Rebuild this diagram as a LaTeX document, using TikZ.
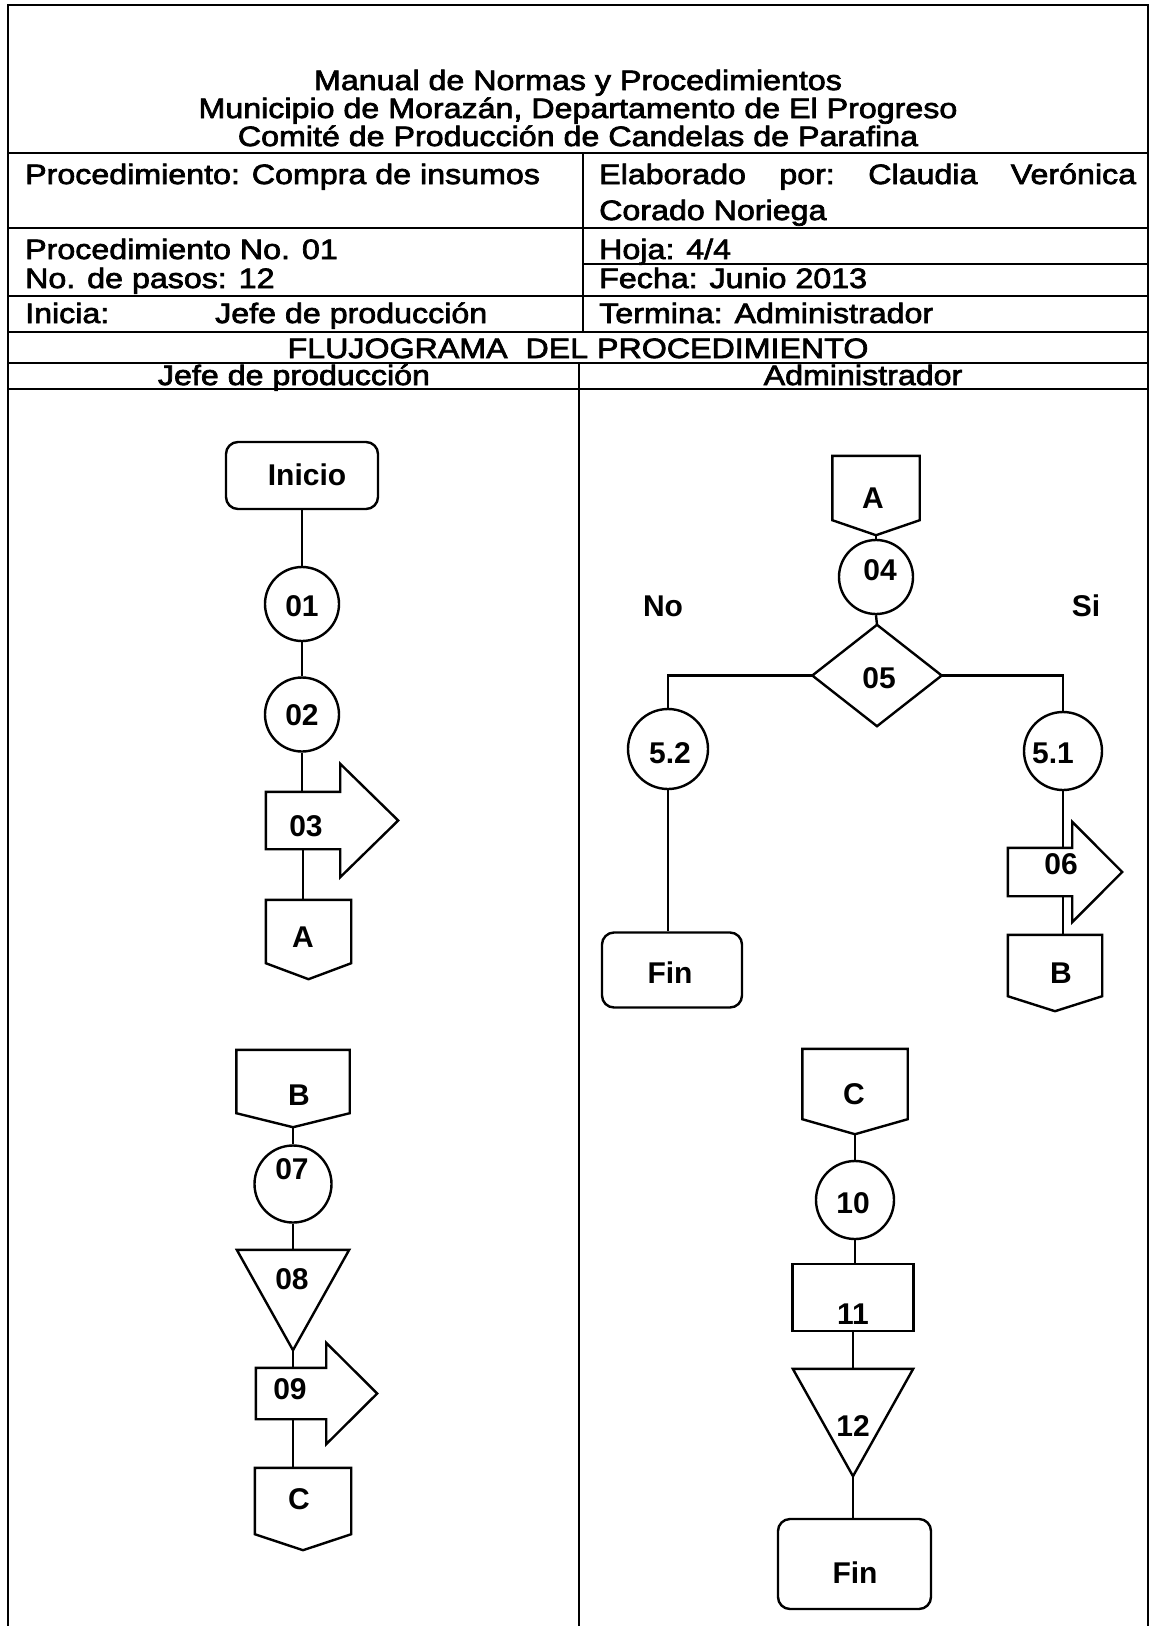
\documentclass[tikz,border=0pt]{standalone}
\usepackage{fontspec}
\setmainfont{Liberation Sans}
\newfontfamily\formfont{Liberation Sans}[FakeBold=2.5,FakeStretch=1.15]
\usetikzlibrary{calc}

% outline helpers for shapes built on a plain rectangle node
\newcommand\drawoffpage[2]{%
  \draw[flowline] (#1.north west) -- (#1.north east) -- (#1.south east)
    -- ($(#1.south)+(0,#2)$) -- (#1.south west) -- cycle;}
\newcommand\drawsignarrow[3]{%
  \draw[flowline] (#1.north west) -- (#1.north east) -- ($(#1.north east)+(0,-#2)$)
    -- ($(#1.east)+(#3,0)$) -- ($(#1.south east)+(0,#2)$) -- (#1.south east)
    -- (#1.south west) -- cycle;}
\newcommand\drawtri[1]{%
  \draw[flowline] (#1.north west) -- (#1.north east) -- (#1.south) -- cycle;}

\begin{document}
\begin{tikzpicture}[x=1pt,y=-1pt,
  tabline/.style={line width=2pt},
  flowline/.style={line width=2.4pt,line join=miter},
  ctext/.style={inner sep=0pt,font=\formfont\fontsize{28}{32}\selectfont},
  ftext/.style={inner sep=0pt,font=\bfseries\fontsize{30}{34}\selectfont},
  circ/.style={circle,draw,line width=2.4pt,inner sep=0pt,minimum size=74pt},
  term/.style={rectangle,draw,line width=2.4pt,rounded corners=12pt,inner sep=0pt},
  frame/.style={rectangle,inner sep=0pt},
  procbox/.style={rectangle,draw,line width=2.4pt,inner sep=0pt}]

\useasboundingbox (0,0) rectangle (1153,1626);
\fill[white] (0,0) rectangle (1153,1626);

% ---------- form grid ----------
\draw[tabline] (8,1626) -- (8,5) -- (1148,5) -- (1148,1626);
\foreach \yy in {153,228,295.5,332,363,389}
  \draw[tabline] (8,\yy) -- (1148,\yy);
\draw[tabline] (583,264) -- (1148,264);
\draw[tabline] (583,153) -- (583,332);
\draw[tabline] (579,363) -- (579,1626);

% ---------- header texts ----------
\node[ctext,anchor=base] (title1) at (578,90) {Manual de Normas y Procedimientos};
\node[ctext,anchor=base] (title2) at (578,118) {Municipio de Morazán, Departamento de El Progreso};
\node[ctext,anchor=base] (title3) at (578,146) {Comité de Producción de Candelas de Parafina};

\node[ctext,anchor=base west] (proc) at (25,184) {Procedimiento: Compra de insumos};
\node[ctext,anchor=base west] (elab) at (599,184)
  {\hbox to 537pt{Elaborado\hfill por:\hfill Claudia\hfill Verónica}};
\node[ctext,anchor=base west] (elab2) at (599,220) {Corado Noriega};

\node[ctext,anchor=base west] (procno) at (25,259) {Procedimiento No. 01};
\node[ctext,anchor=base west] (pasos) at (25,288) {No. de pasos: 12};
\node[ctext,anchor=base west] (hoja) at (599,259) {Hoja: 4/4};
\node[ctext,anchor=base west] (fecha) at (599,288) {Fecha: Junio 2013};

\node[ctext,anchor=base west] (inicia) at (25,323) {Inicia:};
\node[ctext,anchor=base west] (inicia2) at (215,323) {Jefe de producción};
\node[ctext,anchor=base west] (termina) at (599,323) {Termina: Administrador};

\node[ctext,anchor=base] (flujo) at (578,358) {FLUJOGRAMA\ \ DEL PROCEDIMIENTO};
\node[ctext,anchor=base] (lane1) at (294,385) {Jefe de producción};
\node[ctext,anchor=base] (lane2) at (863,385) {Administrador};

% ---------- Jefe de produccion, first part ----------
\node[term,minimum width=152pt,minimum height=67pt] (inicio) at (302,475.5) {};
\node[ftext] (tinicio) at (307,475) {Inicio};
\node[circ] (c01) at (302,604) {};
\node[ftext] (t01) at (302,606) {01};
\node[circ] (c02) at (302,714.5) {};
\node[ftext] (t02) at (302,715) {02};
\node[frame,minimum width=74pt,minimum height=57pt] (s03) at (303,820.5) {};
\drawsignarrow{s03}{28}{58}
\node[ftext] (t03) at (306,826) {03};
\node[frame,minimum width=85pt,minimum height=63pt] (A1) at (308.5,931.5) {};
\drawoffpage{A1}{16}
\node[ftext] (tA1) at (303,937) {A};

\draw[flowline] (inicio) -- (c01);
\draw[flowline] (c01) -- (c02);
\draw[flowline] (c02.south) -- (c02.south |- s03.north);
\draw[flowline] (s03.south) -- (s03.south |- A1.north);

% ---------- Administrador, first part ----------
\node[frame,minimum width=87pt,minimum height=64pt] (A2) at (876,488) {};
\drawoffpage{A2}{15}
\coordinate (A2p) at ($(A2.south)+(0,15)$);
\node[ftext] (tA2) at (873,498) {A};
\node[circ] (c04) at (876,577) {};
\node[ftext] (t04) at (880,570) {04};
\node[frame,minimum width=129pt,minimum height=101pt] (d05) at (877,675.5) {};
\draw[flowline] (d05.north) -- (d05.east) -- (d05.south) -- (d05.west) -- cycle;
\node[ftext] (t05) at (879,678) {05};
\node[ftext] (tno) at (663,606) {No};
\node[ftext] (tsi) at (1086,606) {Si};

\node[circ,minimum size=80pt] (c52) at (668,749) {};
\node[ftext] (t52) at (670,753) {5.2};
\node[term,minimum width=140pt,minimum height=75pt] (fin1) at (672,970) {};
\node[ftext] (tfin1) at (670,973) {Fin};

\node[circ,minimum size=78pt] (c51) at (1063,751) {};
\node[ftext] (t51) at (1053,753) {5.1};
\node[frame,minimum width=64pt,minimum height=48pt] (s06) at (1040,872) {};
\drawsignarrow{s06}{26}{50}
\node[ftext] (t06) at (1061,864) {06};
\node[frame,minimum width=94pt,minimum height=61pt] (B1) at (1055,965.5) {};
\drawoffpage{B1}{15}
\node[ftext] (tB1) at (1061,973) {B};

\draw[flowline] (A2p) -- (c04.north);
\draw[flowline] (c04.south) -- (d05.north);
\draw[flowline] (d05.west) -| (c52.north);
\draw[flowline] (d05.east) -| (c51.north);
\draw[flowline] (c52.south) -- (c52.south |- fin1.north);
\draw[flowline] (c51.south) -- (c51.south |- s06.north);
\draw[flowline] (c51.south |- s06.south) -- (c51.south |- B1.north);

% ---------- Jefe de produccion, second part ----------
\node[frame,minimum width=113pt,minimum height=63pt] (B2) at (293,1081.5) {};
\drawoffpage{B2}{14}
\coordinate (B2p) at ($(B2.south)+(0,14)$);
\node[ftext] (tB2) at (299,1095) {B};
\node[circ,minimum size=77pt] (c07) at (293,1184) {};
\node[ftext] (t07) at (292,1169) {07};
\node[frame,minimum width=112pt,minimum height=100pt] (s08) at (293,1300) {};
\drawtri{s08}
\node[ftext] (t08) at (292,1279) {08};
\node[frame,minimum width=70pt,minimum height=51pt] (s09) at (291,1393.5) {};
\drawsignarrow{s09}{25}{51}
\node[ftext] (t09) at (290,1389) {09};
\node[frame,minimum width=96pt,minimum height=66pt] (C1) at (303,1501) {};
\drawoffpage{C1}{16}
\node[ftext] (tC1) at (299,1499) {C};

\draw[flowline] (B2p) -- (c07.north);
\draw[flowline] (c07.south) -- (c07.south |- s08.north);
\draw[flowline] (s08.south) -- (s08.south |- s09.north);
\draw[flowline] (s08.south |- s09.south) -- (s08.south |- C1.north);

% ---------- Administrador, second part ----------
\node[frame,minimum width=105pt,minimum height=70pt] (C2) at (855,1084) {};
\drawoffpage{C2}{15}
\coordinate (C2p) at ($(C2.south)+(0,15)$);
\node[ftext] (tC2) at (854,1094) {C};
\node[circ,minimum size=78pt] (c10) at (855,1200) {};
\node[ftext] (t10) at (853,1203) {10};
\node[procbox,minimum width=121pt,minimum height=67pt] (r11) at (853,1297.5) {};
\node[ftext] (t11) at (853,1314) {11};
\node[frame,minimum width=120pt,minimum height=107pt] (s12) at (853,1422.5) {};
\drawtri{s12}
\node[ftext] (t12) at (853,1426) {12};
\node[term,minimum width=153pt,minimum height=90pt] (fin2) at (854.5,1564) {};
\node[ftext] (tfin2) at (855,1573) {Fin};

\draw[flowline] (C2p) -- (c10.north);
\draw[flowline] (c10.south) -- (c10.south |- r11.north);
\draw[flowline] (r11.south) -- (s12.north);
\draw[flowline] (s12.south) -- (s12.south |- fin2.north);

\end{tikzpicture}
\end{document}
